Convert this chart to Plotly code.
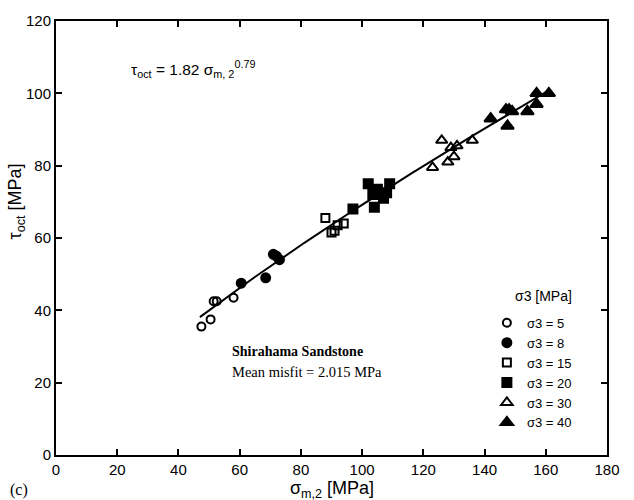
import numpy as np
import plotly.graph_objects as go

# Mean stress sigma_m,2 [MPa] and octahedral shear stress tau_oct [MPa], per confining stress sigma3
s3_5_x = [47.5, 50.5, 51.5, 52.5, 58.0]
s3_5_y = [35.5, 37.5, 42.5, 42.5, 43.5]
s3_8_x = [60.5, 68.5, 71.0, 72.0, 73.0]
s3_8_y = [47.5, 49.0, 55.5, 55.0, 54.0]
s3_15_x = [88.0, 90.0, 91.0, 92.0, 94.0]
s3_15_y = [65.5, 61.5, 62.0, 63.5, 64.0]
s3_20_x = [97.0, 102.0, 103.5, 104.0, 105.0, 107.0, 108.0, 109.0]
s3_20_y = [68.0, 75.0, 72.0, 68.5, 73.5, 71.0, 72.5, 75.0]
s3_30_x = [123.0, 126.0, 128.0, 129.0, 130.0, 131.0, 136.0]
s3_30_y = [79.5, 87.0, 81.0, 85.0, 82.5, 85.5, 87.0]
s3_40_x = [142.0, 147.0, 147.5, 148.0, 149.0, 154.0, 157.0, 157.0, 161.0]
s3_40_y = [93.0, 95.5, 91.0, 95.5, 95.0, 95.0, 97.0, 100.0, 100.0]

# Fitted power law tau_oct = a * sigma_m,2 ** b
fit_a = 1.82
fit_b = 0.79
fit_range = [47.0, 161.0]

x_ticks = [0, 20, 40, 60, 80, 100, 120, 140, 160, 180]
y_ticks = [0, 20, 40, 60, 80, 100, 120]

series = [
    ("σ3 = 5", s3_5_x, s3_5_y, "circle-open", 8),
    ("σ3 = 8", s3_8_x, s3_8_y, "circle", 9),
    ("σ3 = 15", s3_15_x, s3_15_y, "square-open", 8),
    ("σ3 = 20", s3_20_x, s3_20_y, "square", 9),
    ("σ3 = 30", s3_30_x, s3_30_y, "triangle-up-open", 10),
    ("σ3 = 40", s3_40_x, s3_40_y, "triangle-up", 11),
]

fig = go.Figure()

xf = np.linspace(fit_range[0], fit_range[1], 200)
fig.add_trace(go.Scatter(x=xf, y=fit_a * xf ** fit_b, mode="lines",
                         line=dict(color="black", width=2), showlegend=False,
                         hoverinfo="skip"))

for name, xs, ys, sym, size in series:
    fig.add_trace(go.Scatter(
        x=xs, y=ys, mode="markers", name=name,
        marker=dict(symbol=sym, size=size, color="black",
                    line=dict(color="black", width=2)),
    ))

sans = "Liberation Sans, Arial, sans-serif"
serif = "Liberation Serif, Times New Roman, serif"
axis_font = dict(family=sans, size=15, color="black")
title_font = dict(family=sans, size=18, color="black")

fig.update_layout(
    width=634, height=500,
    margin=dict(l=56, r=27, t=18, b=45),
    paper_bgcolor="white", plot_bgcolor="white",
    font=axis_font,
    xaxis=dict(range=[0, 180], tickvals=x_ticks, ticks="inside", ticklen=6,
               tickwidth=1.5, tickcolor="black", showline=True, linecolor="black",
               linewidth=2, mirror="ticks", showgrid=False, zeroline=False,
               tickfont=axis_font),
    yaxis=dict(range=[0, 120], tickvals=y_ticks, ticks="inside", ticklen=6,
               tickwidth=1.5, tickcolor="black", showline=True, linecolor="black",
               linewidth=2, mirror="ticks", showgrid=False, zeroline=False,
               tickfont=axis_font),
    legend=dict(x=0.782, y=0.339, xanchor="left", yanchor="top",
                bgcolor="rgba(0,0,0,0)", borderwidth=0,
                font=dict(family=sans, size=13, color="black"),
                itemwidth=30, tracegroupgap=0),
    showlegend=True,
)

# Legend heading
fig.add_annotation(xref="paper", yref="paper", x=0.830, y=0.366, xanchor="left",
                   yanchor="middle", showarrow=False, text="σ3 [MPa]",
                   font=dict(family=sans, size=14, color="black"))

fig.add_annotation(xref="paper", yref="paper", x=0.5, y=-0.08, xanchor="center",
                   yanchor="middle", showarrow=False,
                   text="σ<sub>m,2</sub> [MPa]", font=title_font)
fig.add_annotation(xref="paper", yref="paper", x=-0.072, y=0.585, textangle=-90,
                   xanchor="center", yanchor="middle", showarrow=False,
                   text="τ<sub>oct</sub> [MPa]", font=title_font)
fig.add_annotation(xref="paper", yref="paper", x=-0.088, y=-0.08, xanchor="left",
                   yanchor="middle", showarrow=False, text="(c)",
                   font=dict(family=serif, size=16, color="black"))
fig.add_annotation(xref="x", yref="y", x=24, y=106.6, xanchor="left", yanchor="middle",
                   showarrow=False,
                   text=f"τ<sub>oct</sub> = {fit_a} σ<sub>m, 2</sub><sup>{fit_b}</sup>",
                   font=dict(family=sans, size=15.5, color="black"))
fig.add_annotation(xref="x", yref="y", x=57, y=28.5, xanchor="left", yanchor="middle",
                   showarrow=False, text="<b>Shirahama Sandstone</b>",
                   font=dict(family=serif, size=14, color="black"))
fig.add_annotation(xref="x", yref="y", x=57, y=23, xanchor="left", yanchor="middle",
                   showarrow=False, text="Mean misfit = 2.015 MPa",
                   font=dict(family=serif, size=14.5, color="black"))

fig.write_html("out.html")
